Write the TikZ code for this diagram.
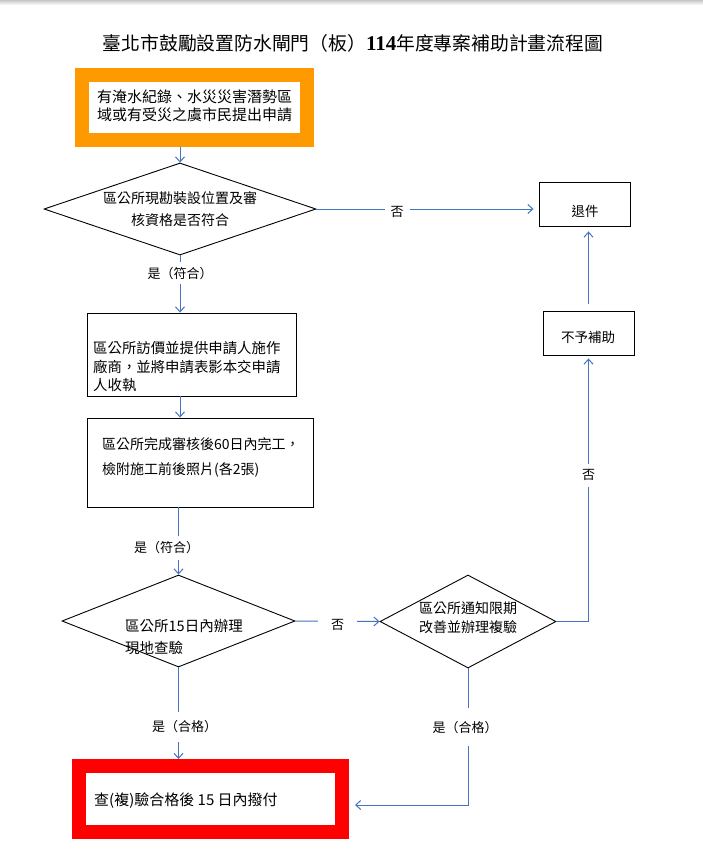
\documentclass[tikz,border=0pt]{standalone}
\usepackage{fontspec}
\setmainfont{Noto Sans CJK TC}
\newfontfamily\lserif{Liberation Serif}
\usetikzlibrary{shapes.geometric,arrows.meta}
\definecolor{lblue}{RGB}{68,114,196}
\definecolor{orng}{RGB}{255,153,0}
\definecolor{rred}{RGB}{255,0,0}
\newcommand\fs[2]{\fontsize{#1pt}{#2pt}\selectfont}
\begin{document}
\begin{tikzpicture}[x=1pt,y=-1pt,
 box/.style={draw=black, line width=0.9pt, rectangle, inner sep=0pt, fill=white},
 dia/.style={draw=black, line width=0.9pt, diamond, inner sep=0pt, fill=white},
 conn/.style={draw=lblue, line width=1pt},
 arr/.style={conn, -{Straight Barb[length=5pt,width=9pt]}},
 lbl/.style={fill=white, inner sep=0pt, font=\fs{13}{15}},
 txt/.style={inner sep=0pt, align=left},
 thick frame/.style={line width=14pt, fill=white, inner sep=0pt},
]
\useasboundingbox (0,0) rectangle (703,860);
\fill[white] (0,0) rectangle (703,860);
\shade[top color=gray!45, bottom color=white] (0,0) rectangle (703,5);

% title
\node[inner sep=0pt] (title) at (353,43) {\fs{18.8}{22}臺北市鼓勵設置防水閘門（板）{\lserif\bfseries\fontsize{21pt}{22pt}\selectfont 114}年度專案補助計畫流程圖};

% start box
\node[thick frame, draw=orng, minimum width=225pt, minimum height=65pt] (start) at (194.5,107.5) {};
\node[txt, anchor=west, font=\fs{15}{18}] (startt) at (97,106) {有淹水紀錄、水災災害潛勢區\\域或有受災之虞市民提出申請};

% decision 1
\node[dia, minimum width=272pt, minimum height=92pt] (d1) at (180,209) {};
\node[inner sep=0pt, align=center, font=\fs{14}{22}] (d1t) at (180,209) {區公所現勘裝設位置及審\\核資格是否符合};

% return
\node[box, minimum width=91pt, minimum height=44pt] (ret) at (584.5,204) {};
\node[inner sep=0pt, font=\fs{13.5}{16}] (rett) at (585,211) {退件};

% no subsidy
\node[box, minimum width=91pt, minimum height=44pt] (nos) at (588.5,333) {};
\node[inner sep=0pt, font=\fs{13.5}{16}] (nost) at (588,337) {不予補助};

% box 2
\node[box, minimum width=209pt, minimum height=83pt] (b2) at (191.5,354.5) {};
\node[txt, anchor=west, font=\fs{14.4}{18.5}] (b2t) at (93,367) {區公所訪價並提供申請人施作\\廠商，並將申請表影本交申請\\人收執};

% box 3
\node[box, minimum width=226pt, minimum height=89pt] (b3) at (200,462.5) {};
\node[txt, anchor=west, font=\fs{14}{25}] (b3t) at (102,457.5) {區公所完成審核後60日內完工，\\檢附施工前後照片(各2張)};

% decision 2
\node[dia, minimum width=233pt, minimum height=92pt] (d2) at (178.5,621) {};
\node[txt, anchor=west, font=\fs{14.5}{22}] (d2t) at (125,637) {區公所15日內辦理\\現地查驗};

% decision 3
\node[dia, minimum width=176pt, minimum height=93pt] (d3) at (468,621.5) {};
\node[inner sep=0pt, align=center, font=\fs{14}{19}] (d3t) at (468,617.5) {區公所通知限期\\改善並辦理複驗};

% connectors
\draw[arr] (start.south -| d1.north) -- (d1.north);
\draw[arr, shorten >=5pt] (d1.east) -- node[lbl, pos=0.363, inner xsep=6pt, yshift=-3pt]{否} (d1.east -| ret.west);
\draw[arr] (d1.south) -- node[lbl, pos=0.31, inner ysep=5pt]{是（符合）} (d1.south |- b2.north);
\draw[arr] (b2.south -| d1.south) -- (d1.south |- b3.north);
\draw[arr] (d2.north |- b3.south) -- node[lbl, pos=0.6, inner ysep=6pt, xshift=-12pt]{是（符合）} (d2.north);
\draw[arr] (d2.east) -- node[lbl, pos=0.5, inner xsep=13pt, yshift=-4pt]{否} (d3.west);
\draw[arr] (d2.south) -- node[lbl, pos=0.65, inner ysep=9pt, xshift=6pt]{是（合格）} (d2.south |- 0,759);
\coordinate (j) at (468,805);
\draw[arr, shorten >=3pt] (d3.east) -| node[lbl, pos=0.775, inner ysep=6pt]{否} (nos.south);
\draw[arr, shorten <=7pt, shorten >=5pt] (nos.north) -- (nos.north |- ret.south);

% pay box
\node[thick frame, draw=rred, minimum width=263pt, minimum height=66pt] (pay) at (210.5,799) {};
\node[txt, anchor=west, font=\fs{15}{18}] (payt) at (94,801) {查(複)驗合格後 15 日內撥付};
\draw[arr] (d3.south) -- node[lbl, pos=0.43, inner ysep=13pt, xshift=-3pt]{是（合格）} (j) -- ([xshift=6pt]pay.east |- j);
\end{tikzpicture}
\end{document}
